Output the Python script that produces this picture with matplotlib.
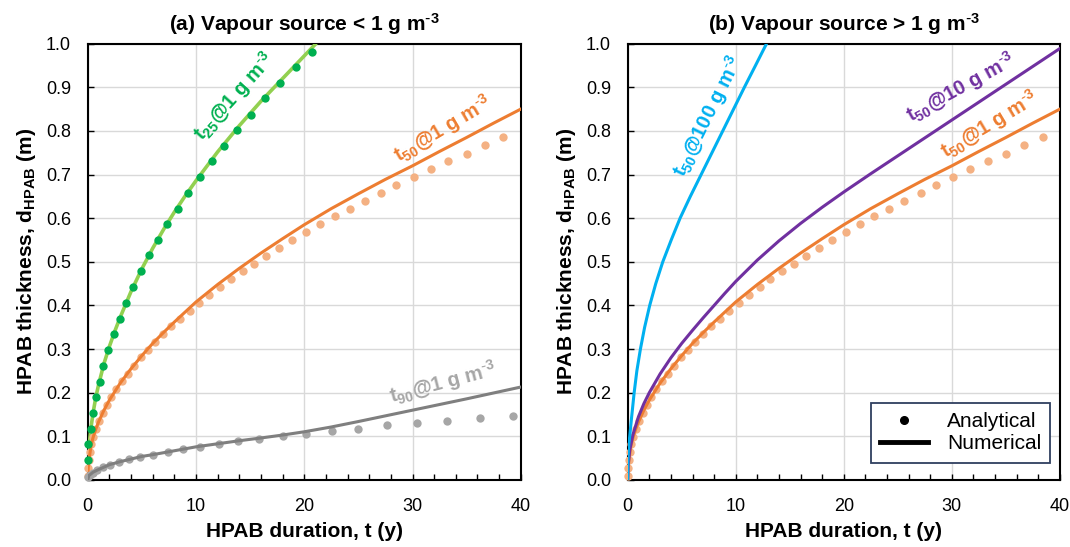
import matplotlib
matplotlib.use("Agg")
import matplotlib.pyplot as plt
from matplotlib.lines import Line2D
from matplotlib.ticker import MultipleLocator

plt.rcParams['font.family'] = ['Liberation Sans', 'DejaVu Sans']
plt.rcParams['mathtext.default'] = 'regular'

# ---------------- data ----------------
# t25 @ 1 g m-3 (analytical dots)
t25_dot_t = [0.0, 0.06, 0.29, 0.51, 0.76, 1.11, 1.43, 1.90, 2.41, 2.95, 3.56, 4.19, 4.92,
             5.67, 6.50, 7.36, 8.30, 9.30, 10.4, 11.5, 12.6, 13.8, 15.1, 16.4, 17.75, 19.2, 20.7]
t25_dot_d = [0.046, 0.082, 0.118, 0.153, 0.190, 0.225, 0.262, 0.298, 0.334, 0.370, 0.406, 0.442, 0.478,
             0.515, 0.550, 0.586, 0.622, 0.658, 0.695, 0.730, 0.766, 0.802, 0.837, 0.875, 0.910, 0.946, 0.982]
# t25 numerical line
t25_line_t = [0, 0.05, 0.15, 0.3, 0.5, 0.75, 1, 1.5, 2, 2.5, 3, 4, 5, 6, 7, 8, 9, 10, 12, 14, 16, 18, 20, 21.0]
t25_line_d = [0, 0.05, 0.085, 0.12, 0.155, 0.19, 0.218, 0.267, 0.306, 0.341, 0.373, 0.432, 0.484, 0.531,
              0.574, 0.614, 0.651, 0.686, 0.752, 0.812, 0.868, 0.92, 0.972, 0.998]

# t50 @ 1 g m-3
t50_dot_t = [0.0, 0.03, 0.10, 0.19, 0.29, 0.51, 0.76, 1.05, 1.40, 1.78, 2.19, 2.63, 3.14, 3.71, 4.29,
             4.89, 5.56, 6.2, 6.95, 7.7, 8.5, 9.4, 10.3, 11.2, 12.2, 13.2, 14.3, 15.4, 16.5, 17.7,
             18.9, 20.2, 21.5, 22.8, 24.2, 25.6, 27.1, 28.5, 30.1, 31.7, 33.3, 35.0, 36.7, 38.4]
t50_dot_d = [0.010, 0.027, 0.046, 0.064, 0.082, 0.099, 0.118, 0.136, 0.154, 0.172, 0.190, 0.208, 0.227, 0.244, 0.262,
             0.281, 0.299, 0.317, 0.334, 0.353, 0.370, 0.388, 0.406, 0.424, 0.442, 0.460, 0.478, 0.496, 0.514, 0.532,
             0.550, 0.568, 0.586, 0.604, 0.622, 0.639, 0.657, 0.676, 0.694, 0.712, 0.730, 0.748, 0.767, 0.785]
t50_line_t = [0, 0.05, 0.15, 0.3, 0.5, 0.75, 1, 1.5, 2, 3, 4, 5, 6, 7, 8, 10, 12, 14, 16, 18, 20,
              22.5, 25, 27.5, 30, 32.5, 35, 37.5, 40]
t50_line_d = [0, 0.03, 0.052, 0.078, 0.098, 0.117, 0.133, 0.16, 0.183, 0.222, 0.255, 0.285, 0.313, 0.338,
              0.362, 0.408, 0.448, 0.485, 0.52, 0.553, 0.585, 0.622, 0.656, 0.689, 0.72, 0.753, 0.785, 0.818, 0.85]

# t90 @ 1 g m-3
t90_dot_t = [0.05, 0.22, 0.49, 0.89, 1.41, 2.05, 2.88, 3.80, 4.87, 6.07, 7.39, 8.83, 10.4,
             12.1, 13.9, 15.8, 18.0, 20.2, 22.6, 25.0, 27.6, 30.4, 33.2, 36.2, 39.3]
t90_dot_d = [0.007, 0.011, 0.017, 0.023, 0.029, 0.035, 0.041, 0.047, 0.053, 0.058, 0.064, 0.071, 0.076,
             0.083, 0.089, 0.095, 0.101, 0.106, 0.112, 0.118, 0.125, 0.130, 0.136, 0.143, 0.147]
t90_line_t = [0, 0.1, 0.3, 0.5, 1, 2, 3, 4, 5, 6, 8, 10, 12, 14, 16, 18, 20, 22.5, 25, 27.5, 30, 32.5, 35, 37.5, 40]
t90_line_d = [0, 0.01, 0.014, 0.018, 0.024, 0.035, 0.042, 0.048, 0.054, 0.058, 0.067, 0.076, 0.083, 0.09,
              0.0963, 0.103, 0.1105, 0.1215, 0.134, 0.147, 0.160, 0.173, 0.186, 0.1995, 0.213]

# t50 @ 100 g m-3 (numerical)
t50_100_t = [0, 0.02, 0.05, 0.1, 0.19, 0.35, 0.6, 0.85, 1.18, 1.57, 2.04, 2.6, 3.25, 4.03, 4.85,
             5.8, 6.8, 7.8, 8.8, 9.8, 10.8, 11.83, 12.85]
t50_100_d = [0, 0.04, 0.06, 0.08, 0.10, 0.14, 0.20, 0.25, 0.30, 0.35, 0.40, 0.45, 0.50, 0.55, 0.60,
             0.65, 0.70, 0.75, 0.80, 0.85, 0.90, 0.95, 1.00]

# t50 @ 10 g m-3 (numerical)
t50_10_t = [0, 0.05, 0.2, 0.5, 1, 1.5, 2, 3, 4, 5, 6, 7, 8, 9, 10, 12, 14, 16, 18, 20,
            22.5, 25, 27.5, 30, 32.5, 35, 37.5, 40]
t50_10_d = [0, 0.035, 0.07, 0.105, 0.145, 0.175, 0.20, 0.243, 0.28, 0.313, 0.343, 0.372, 0.40, 0.428, 0.455,
            0.504, 0.548, 0.588, 0.625, 0.66, 0.702, 0.743, 0.784, 0.825, 0.866, 0.907, 0.948, 0.989]

# colours
GREEN_DOT, GREEN_LINE = '#00B050', '#92D050'
OR_LINE, OR_DOT = '#ED7D31', '#F4B183'
GR_LINE, GR_DOT = '#7F7F7F', '#A6A6A6'
BLUE, PURPLE = '#00B0F0', '#7030A0'

fig = plt.figure(figsize=(10.7, 5.47), dpi=100)
axL = fig.add_axes([0.082, 0.1225, 0.4047, 0.7977])
axR = fig.add_axes([0.5866, 0.1225, 0.4040, 0.7977])

DOT_S = 36
LW = 2.2
SUP = '$^{\\text{-}3}$'


def style(ax, title):
    ax.set_xlim(0, 40)
    ax.set_ylim(0, 1.0)
    ax.xaxis.set_major_locator(MultipleLocator(10))
    ax.xaxis.set_minor_locator(MultipleLocator(2))
    ax.grid(True, which='major', color='#D9D9D9', lw=1.0, zorder=0)
    ax.set_axisbelow(True)
    ax.tick_params(axis='both', which='both', direction='in', length=4.5, width=1.0,
                   labelsize=13, top=False, right=False)
    ax.tick_params(axis='y', pad=12)
    ax.tick_params(axis='x', pad=13)
    ax.set_yticks([i / 10 for i in range(11)])
    ax.set_yticklabels([f'{i / 10:.1f}' for i in range(11)])
    for s in ax.spines.values():
        s.set_linewidth(1.5)
        s.set_color('black')
    ax.set_xlabel('HPAB duration, t (y)', fontsize=15, fontweight='bold', labelpad=5)
    ax.set_ylabel('HPAB thickness, d$_{HPAB}$ (m)', fontsize=15, fontweight='bold', labelpad=6)
    ax.set_title(title, fontsize=15, fontweight='bold', pad=9)


style(axL, '(a) Vapour source < 1 g m' + SUP)
style(axR, '(b) Vapour source > 1 g m' + SUP)

# left panel
axL.plot(t25_line_t, t25_line_d, color=GREEN_LINE, lw=2.6, zorder=3)
axL.scatter(t25_dot_t, t25_dot_d, s=DOT_S, color=GREEN_DOT, lw=0, zorder=4, clip_on=False)
axL.scatter(t50_dot_t, t50_dot_d, s=DOT_S, color=OR_DOT, lw=0, zorder=3, clip_on=False)
axL.plot(t50_line_t, t50_line_d, color=OR_LINE, lw=LW, zorder=3)
axL.scatter(t90_dot_t, t90_dot_d, s=DOT_S, color=GR_DOT, lw=0, zorder=3, clip_on=False)
axL.plot(t90_line_t, t90_line_d, color=GR_LINE, lw=LW, zorder=3)

kw = dict(fontsize=14.5, fontweight='bold', ha='center', va='center', rotation_mode='anchor')
axL.text(13.5, 0.878, 't$_{25}$@1 g m' + SUP, color=GREEN_DOT, rotation=48, **kw)
axL.text(32.8, 0.805, 't$_{50}$@1 g m' + SUP, color=OR_LINE, rotation=30.5, **kw)
axL.text(32.8, 0.224, 't$_{90}$@1 g m' + SUP, color=GR_DOT, rotation=14.5, **kw)

# right panel
axR.scatter(t50_dot_t, t50_dot_d, s=DOT_S, color=OR_DOT, lw=0, zorder=3, clip_on=False)
axR.plot(t50_line_t, t50_line_d, color=OR_LINE, lw=LW, zorder=3)
axR.plot(t50_10_t, t50_10_d, color=PURPLE, lw=LW, zorder=3)
axR.plot(t50_100_t, t50_100_d, color=BLUE, lw=LW, zorder=3)

axR.text(7.4, 0.834, 't$_{50}$@100 g m' + SUP, color=BLUE, rotation=63.5, **kw)
axR.text(30.8, 0.90, 't$_{50}$@10 g m' + SUP, color=PURPLE, rotation=28.7, **kw)
axR.text(33.5, 0.814, 't$_{50}$@1 g m' + SUP, color=OR_LINE, rotation=31, **kw)

handles = [Line2D([], [], marker='o', ls='none', color='black', markersize=5.5),
           Line2D([], [], color='black', lw=3.5)]
leg = axR.legend(handles, ['Analytical', 'Numerical'], loc='lower right',
                 bbox_to_anchor=(0.978, 0.04), borderaxespad=0, fontsize=15,
                 frameon=True, fancybox=False, framealpha=1, edgecolor='#2F3F5F',
                 handlelength=2.3, handletextpad=0.9, borderpad=0.45, labelspacing=0.15)
leg.get_frame().set_linewidth(1.3)

fig.savefig('out.png', dpi=100)
